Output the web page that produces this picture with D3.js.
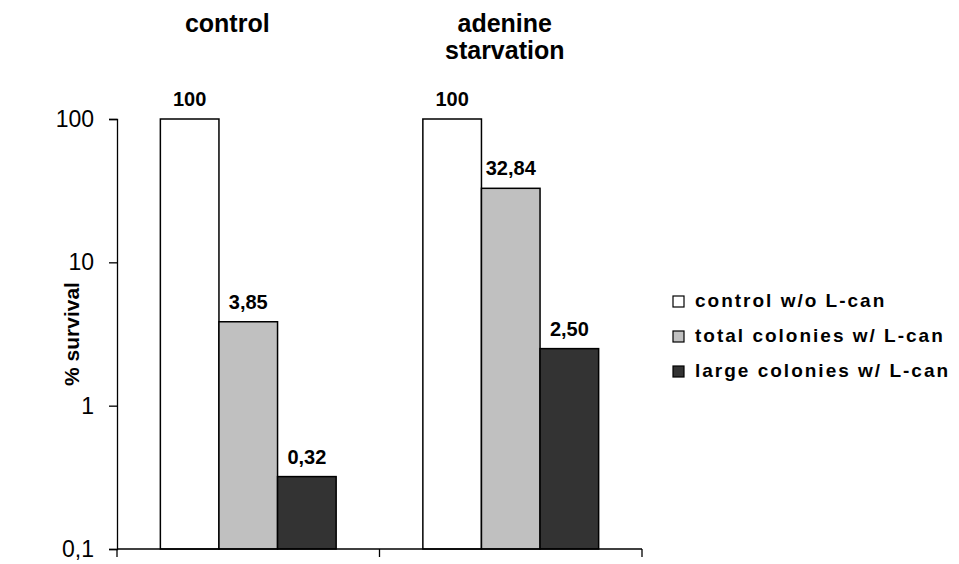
<!DOCTYPE html>
<html>
<head>
<meta charset="utf-8">
<script src="https://cdn.jsdelivr.net/npm/d3@7"></script>
<style>
  html, body { margin: 0; padding: 0; background: #fff; }
  svg { display: block; font-family: "Liberation Sans", Arial, sans-serif; }
</style>
</head>
<body>
<svg id="chart" width="959" height="564"></svg>
<script>
// Survival after L-canavanine selection, log scale
const groups = ["control", "adenine starvation"];
const groupLines = [["control"], ["adenine", "starvation"]];
const seriesNames = ["control w/o L-can", "total colonies w/ L-can", "large colonies w/ L-can"];
const seriesColors = ["#ffffff", "#c0c0c0", "#333333"];
const controlWithoutLcan = [100, 100];
const totalColonies = [3.85, 32.84];
const largeColonies = [0.32, 2.50];
const yTicks = [0.1, 1, 10, 100];

const series = [controlWithoutLcan, totalColonies, largeColonies];
const fmt = v => v === 100 ? "100" : v.toFixed(2).replace(".", ",");
const tickFmt = v => String(v).replace(".", ",");

const svg = d3.select("#chart");
const margin = { left: 117, right: 642, top: 119, bottom: 549 };

const x = d3.scaleBand().domain(groups).range([margin.left, margin.right]).paddingInner(0).paddingOuter(0);
const inner = d3.scaleBand().domain(d3.range(seriesNames.length)).range([0, x.bandwidth()]).paddingOuter(0.74).paddingInner(0);
const y = d3.scaleLog().domain([0.1, 100]).range([margin.bottom, margin.top]);

// bars
groups.forEach((g, gi) => {
  series.forEach((s, si) => {
    const v = s[gi];
    const bx = x(g) + inner(si);
    svg.append("rect")
      .attr("x", bx).attr("y", y(v))
      .attr("width", inner.bandwidth()).attr("height", y(0.1) - y(v))
      .attr("fill", seriesColors[si]).attr("stroke", "#000").attr("stroke-width", 1.5);
    svg.append("text")
      .attr("x", bx + inner.bandwidth() / 2).attr("y", y(v) - 13)
      .attr("text-anchor", "middle").attr("font-weight", "bold").attr("font-size", 20)
      .text(fmt(v));
  });
});

// y axis
const yAxis = d3.axisLeft(y).tickValues(yTicks).tickFormat(tickFmt).tickSize(8).tickPadding(15);
const yg = svg.append("g").attr("transform", `translate(${margin.left},0)`).call(yAxis);
yg.select(".domain").attr("stroke", "#000").attr("stroke-width", 1.3);
yg.selectAll(".tick line").attr("stroke", "#000").attr("stroke-width", 1.3);
yg.selectAll(".tick text").attr("font-size", 23).attr("font-family", "Liberation Sans, Arial, sans-serif").attr("fill", "#000");

// x axis with ticks at category boundaries
svg.append("line").attr("x1", margin.left).attr("x2", margin.right)
  .attr("y1", margin.bottom).attr("y2", margin.bottom).attr("stroke", "#000").attr("stroke-width", 1.3);
const boundaries = groups.map(g => x(g)).concat([x(groups[groups.length - 1]) + x.bandwidth()]);
svg.selectAll(".xtick").data(boundaries).enter().append("line")
  .attr("x1", d => d).attr("x2", d => d)
  .attr("y1", margin.bottom).attr("y2", margin.bottom + 8)
  .attr("stroke", "#000").attr("stroke-width", 1.3);

// group titles above the plot (shifted slightly left of the group centre)
const titleShift = [-21, -6];
groups.forEach((g, gi) => {
  const lines = groupLines[gi];
  const t = svg.append("text").attr("text-anchor", "middle")
    .attr("font-weight", "bold").attr("font-size", 25);
  lines.forEach((ln, li) => {
    t.append("tspan").attr("x", x(g) + x.bandwidth() / 2 + titleShift[gi])
      .attr("y", 32 + li * 27)
      .text(ln);
  });
});

// y axis title
svg.append("text")
  .attr("transform", `translate(79,${(margin.top + margin.bottom) / 2}) rotate(-90)`)
  .attr("text-anchor", "middle").attr("font-weight", "bold").attr("font-size", 21)
  .text("% survival");

// legend
const legend = svg.append("g").attr("transform", "translate(673,307)");
seriesNames.forEach((name, i) => {
  const row = legend.append("g").attr("transform", `translate(0,${i * 35})`);
  row.append("rect").attr("x", 0).attr("y", -11).attr("width", 11).attr("height", 11)
    .attr("fill", seriesColors[i]).attr("stroke", "#000").attr("stroke-width", 1.2);
  row.append("text").attr("x", 22).attr("y", 0).attr("font-weight", "bold").attr("font-size", 19)
    .attr("letter-spacing", 2.0).text(name);
});
</script>
</body>
</html>
